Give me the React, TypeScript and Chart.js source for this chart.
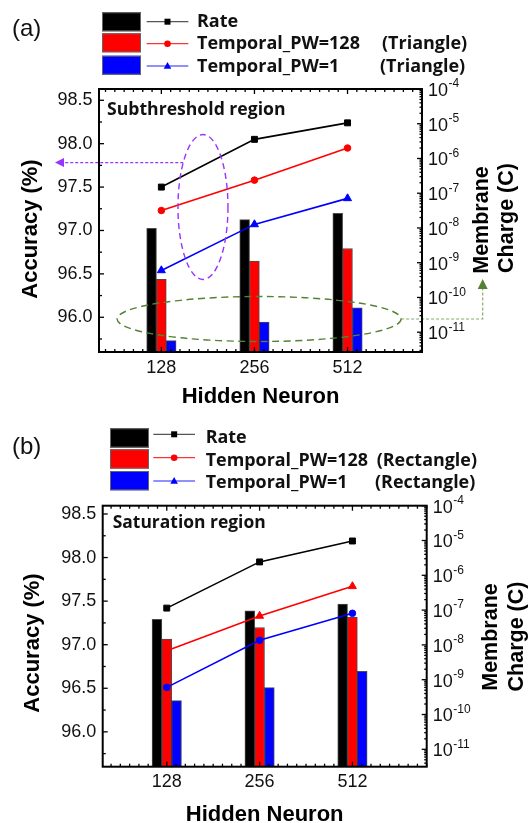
import { useEffect, useRef } from 'react';
import { Chart, registerables } from 'chart.js';

Chart.register(...registerables);

// ---------- data ----------
const hiddenNeurons = ['128', '256', '512'];
const xIndex = [0, 1, 2];
const seriesNames = ['Rate', 'Temporal_PW=128', 'Temporal_PW=1'];
const accTicks = [96.0, 96.5, 97.0, 97.5, 98.0, 98.5];
const chargeExponents = [-11, -10, -9, -8, -7, -6, -5, -4];

// (a) Subthreshold region (Triangle)
const accRateA = [97.5, 98.05, 98.24];
const accPW128A = [97.23, 97.58, 97.95];
const accPW1A = [96.54, 97.07, 97.37];
const chargeRateA = [9.8e-9, 1.74e-8, 2.63e-8];
const chargePW128A = [3.3e-10, 1.12e-9, 2.57e-9];
const chargePW1A = [5.75e-12, 1.95e-11, 5.0e-11];

// (b) Saturation region (Rectangle)
const accRateB = [97.42, 97.95, 98.19];
const accPW128B = [96.93, 97.33, 97.67];
const accPW1B = [96.51, 97.05, 97.36];
const chargeRateB = [5.4e-8, 9.5e-8, 1.48e-7];
const chargePW128B = [1.48e-8, 3.16e-8, 6.3e-8];
const chargePW1B = [2.5e-10, 5.9e-10, 1.74e-9];

// annotation anchors (panel a), in data units
const accuracyHighlight = { x: 0.447, acc: 97.27 };
const chargeHighlight = { x: 1.05, acc: 95.98 };

// ---------- styles ----------
const seriesColors = ['#000000', '#ff0000', '#0000ff'];
const legendLineColors = ['#555555', '#ff3333', '#2222ff'];
const TICK_FONT = "'Liberation Sans', Arial, sans-serif";
const TITLE_FONT = "'Liberation Sans', Arial, sans-serif";
const LABEL_FONT = "'Open Sans', 'Noto Sans', sans-serif";

type Cfg = any;

const panels: Cfg[] = [
  {
    canvasH: 412, padTop: 89, leftW: 99, rightW: 107, bottomH: 60,
    accMin: 95.6, accMax: 98.63, chargeMin: Math.pow(10, -11.57), chargeMax: 1e-4,
    xMin: -0.67, xMax: 2.8,
    tag: '(a)', tagX: 12, tagY: 36,
    region: 'Subthreshold region', regionDX: 8, regionY: 115, regionW: 178.7,
    acc: [accRateA, accPW128A, accPW1A],
    charge: [chargeRateA, chargePW128A, chargePW1A],
    pointStyles: ['rect', 'circle', 'triangle'],
    legendMarkers: ['rect', 'circle', 'triangle'],
    legend: {
      swatchX: 102, swatchW: 39, swatchH: 19, swatchTops: [12.3, 33.3, 55.7],
      lineX0: 146.7, lineX1: 188.3, lineYs: [21.7, 43.7, 66],
      textX: 197, baselines: [27.3, 49.3, 71.7], textW: 163,
      suffix: ['', '(Triangle)', '(Triangle)'], suffixX: [0, 382, 380],
    },
    leftTitleX: 37, leftTitleY: 229,
    rightTitleX: [488, 512.5], rightTitleY: [220, 218],
    bottomTitleY: 403,
    annotate: true,
  },
  {
    canvasH: 411, padTop: 93.7, leftW: 102.7, rightW: 102.3, bottomH: 56.3,
    accMin: 95.6, accMax: 98.595, chargeMin: Math.pow(10, -11.5), chargeMax: 1e-4,
    xMin: -0.69, xMax: 2.8,
    tag: '(b)', tagX: 12, tagY: 42,
    region: 'Saturation region', regionDX: 10, regionY: 116, regionW: 153,
    acc: [accRateB, accPW128B, accPW1B],
    charge: [chargeRateB, chargePW128B, chargePW1B],
    pointStyles: ['rect', 'triangle', 'circle'],
    legendMarkers: ['rect', 'circle', 'triangle'],
    legend: {
      swatchX: 110, swatchW: 39, swatchH: 19.3, swatchTops: [16.3, 37.3, 59],
      lineX0: 153.3, lineX1: 195, lineYs: [22.3, 45.7, 69],
      textX: 205.7, baselines: [30.7, 53.7, 76.3], textW: 162.3,
      suffix: ['', '(Rectangle)', '(Rectangle)'], suffixX: [0, 376.7, 375],
    },
    leftTitleX: 39, leftTitleY: 231,
    rightTitleX: [497, 522.5], rightTitleY: [225, 224.5],
    bottomTitleY: 408.7,
    annotate: false,
  },
];

function drawMarker(ctx: CanvasRenderingContext2D, style: string, x: number, y: number, r: number, color: string) {
  ctx.fillStyle = color;
  ctx.beginPath();
  if (style === 'rect') ctx.rect(x - r, y - r, 2 * r, 2 * r);
  else if (style === 'circle') ctx.arc(x, y, r, 0, Math.PI * 2);
  else {
    ctx.moveTo(x, y - r * 1.2);
    ctx.lineTo(x + r * 1.15, y + r * 0.8);
    ctx.lineTo(x - r * 1.15, y + r * 0.8);
    ctx.closePath();
  }
  ctx.fill();
}

function fitFont(ctx: CanvasRenderingContext2D, text: string, family: string, weight: string, target: number) {
  ctx.font = `${weight} 20px ${family}`;
  const w = ctx.measureText(text).width;
  return (20 * target) / w;
}

function line(ctx: CanvasRenderingContext2D, x0: number, y0: number, x1: number, y1: number) {
  ctx.beginPath();
  ctx.moveTo(x0, y0);
  ctx.lineTo(x1, y1);
  ctx.stroke();
}

function makePlugin(cfg: Cfg) {
  return {
    id: 'decor',
    afterDraw(chart: any) {
      const ctx: CanvasRenderingContext2D = chart.ctx;
      const { left, right, top, bottom } = chart.chartArea;
      const xs = chart.scales.x;
      const ya = chart.scales.yAcc;
      const yc = chart.scales.yCharge;
      ctx.save();

      // annotations
      if (cfg.annotate) {
        // purple ellipse + arrow
        const pcx = xs.getPixelForValue(accuracyHighlight.x);
        const pcy = ya.getPixelForValue(accuracyHighlight.acc);
        const prx = 25, pry = 72.5;
        ctx.strokeStyle = '#9933ff';
        ctx.lineWidth = 1.4;
        ctx.setLineDash([6, 4]);
        ctx.beginPath();
        ctx.ellipse(pcx, pcy, prx, pry, 0, 0, Math.PI * 2);
        ctx.stroke();
        const ay = pcy - 44.5;
        const ax = pcx - prx * Math.sqrt(1 - Math.pow((ay - pcy) / pry, 2));
        ctx.setLineDash([3, 2]);
        ctx.lineWidth = 1.2;
        line(ctx, ax, ay, left - 36, ay);
        ctx.setLineDash([]);
        ctx.fillStyle = '#9933ff';
        ctx.beginPath();
        ctx.moveTo(left - 44, ay);
        ctx.lineTo(left - 35, ay - 4.5);
        ctx.lineTo(left - 35, ay + 4.5);
        ctx.closePath();
        ctx.fill();

        // green ellipse + arrow
        const gcx = xs.getPixelForValue(chargeHighlight.x);
        const gcy = ya.getPixelForValue(chargeHighlight.acc);
        const grx = 142, gry = 22.5;
        ctx.strokeStyle = '#548235';
        ctx.lineWidth = 1.4;
        ctx.setLineDash([7, 4.5]);
        ctx.beginPath();
        ctx.ellipse(gcx, gcy, grx, gry, 0, 0, Math.PI * 2);
        ctx.stroke();
        ctx.strokeStyle = '#86ab66';
        ctx.lineWidth = 1.2;
        ctx.setLineDash([3, 2]);
        const gx = right + 60.7;
        ctx.beginPath();
        ctx.moveTo(gcx + grx, gcy);
        ctx.lineTo(gx, gcy);
        ctx.lineTo(gx, gcy - 31);
        ctx.stroke();
        ctx.setLineDash([]);
        ctx.fillStyle = '#548235';
        ctx.beginPath();
        ctx.moveTo(gx, gcy - 40);
        ctx.lineTo(gx + 5, gcy - 30);
        ctx.lineTo(gx - 5, gcy - 30);
        ctx.closePath();
        ctx.fill();
      }

      // ticks (inward)
      ctx.setLineDash([]);
      ctx.strokeStyle = '#000';
      ctx.lineWidth = 1.3;
      for (let k = Math.ceil(ya.min / 0.25); k * 0.25 <= ya.max + 1e-9; k++) {
        const v = k * 0.25;
        const py = ya.getPixelForValue(v);
        const major = k % 2 === 0;
        line(ctx, left, py, left + (major ? 5 : 3), py);
      }
      for (let e = Math.floor(Math.log10(yc.min)); e <= -4; e++) {
        for (let m = 1; m <= 9; m++) {
          const v = m * Math.pow(10, e);
          if (v < yc.min * 0.999 || v > yc.max * 1.001) continue;
          const py = yc.getPixelForValue(v);
          line(ctx, right, py, right - (m === 1 ? 5 : 2.5), py);
        }
      }
      for (let k = Math.ceil(xs.min * 10); k / 10 <= xs.max + 1e-9; k++) {
        const px = xs.getPixelForValue(k / 10);
        const major = k % 10 === 0;
        const len = major ? 5 : 3;
        line(ctx, px, bottom, px, bottom - len);
        line(ctx, px, top, px, top + len);
      }

      // frame
      ctx.lineWidth = 2;
      ctx.strokeRect(left, top, right - left, bottom - top);

      // right tick labels 10^n
      ctx.fillStyle = '#111';
      for (const e of chargeExponents) {
        const py = yc.getPixelForValue(Math.pow(10, e));
        ctx.font = `18px ${TICK_FONT}`;
        ctx.textAlign = 'left';
        ctx.textBaseline = 'middle';
        ctx.fillText('10', right + 6, py + 2);
        const w = ctx.measureText('10').width;
        ctx.font = `12px ${TICK_FONT}`;
        ctx.fillText(String(e), right + 6 + w + 0.5, py - 5);
      }

      // axis titles
      ctx.fillStyle = '#000';
      ctx.font = `bold 22px ${TITLE_FONT}`;
      ctx.textAlign = 'center';
      ctx.textBaseline = 'alphabetic';
      ctx.save();
      ctx.translate(cfg.leftTitleX, cfg.leftTitleY);
      ctx.rotate(-Math.PI / 2);
      ctx.fillText('Accuracy (%)', 0, 0);
      ctx.restore();
      ctx.font = `bold 21.5px ${TITLE_FONT}`;
      ['Membrane', 'Charge (C)'].forEach((t, i) => {
        ctx.save();
        ctx.translate(cfg.rightTitleX[i], cfg.rightTitleY[i]);
        ctx.rotate(-Math.PI / 2);
        ctx.fillText(t, 0, 0);
        ctx.restore();
      });
      ctx.font = `bold 22px ${TITLE_FONT}`;
      ctx.fillText('Hidden Neuron', (left + right) / 2, cfg.bottomTitleY);

      // region text
      const rs = fitFont(ctx, cfg.region, LABEL_FONT, 'bold', cfg.regionW);
      ctx.font = `bold ${rs}px ${LABEL_FONT}`;
      ctx.textAlign = 'left';
      ctx.fillStyle = '#111';
      ctx.fillText(cfg.region, left + cfg.regionDX, cfg.regionY);

      // panel tag
      ctx.font = `24px ${TICK_FONT}`;
      ctx.fillStyle = '#111';
      ctx.fillText(cfg.tag, cfg.tagX, cfg.tagY);

      // legend
      const L = cfg.legend;
      const ls = fitFont(ctx, seriesNames[1], LABEL_FONT, 'bold', L.textW);
      seriesNames.forEach((name, i) => {
        ctx.fillStyle = seriesColors[i];
        ctx.fillRect(L.swatchX, L.swatchTops[i], L.swatchW, L.swatchH);
        ctx.strokeStyle = '#666';
        ctx.lineWidth = 1;
        ctx.strokeRect(L.swatchX + 0.5, L.swatchTops[i] + 0.5, L.swatchW - 1, L.swatchH - 1);
        ctx.strokeStyle = legendLineColors[i];
        ctx.lineWidth = 1.2;
        line(ctx, L.lineX0, L.lineYs[i], L.lineX1, L.lineYs[i]);
        const mx = (L.lineX0 + L.lineX1) / 2;
        const mStyle = cfg.legendMarkers[i];
        drawMarker(ctx, mStyle, mx, L.lineYs[i], mStyle === 'rect' ? 3 : 3.3, seriesColors[i]);
        ctx.fillStyle = '#111';
        ctx.font = `bold ${ls}px ${LABEL_FONT}`;
        ctx.textAlign = 'left';
        ctx.textBaseline = 'alphabetic';
        ctx.fillText(name, L.textX, L.baselines[i]);
        if (L.suffix[i]) ctx.fillText(L.suffix[i], L.suffixX[i], L.baselines[i]);
      });

      ctx.restore();
    },
  };
}

function Panel({ cfg }: { cfg: Cfg }) {
  const ref = useRef<HTMLCanvasElement>(null);
  useEffect(() => {
    if (!ref.current) return;
    const barSets = cfg.charge.map((vals: number[], i: number) => ({
      type: 'bar',
      label: seriesNames[i],
      data: xIndex.map((x, j) => ({ x, y: vals[j] })),
      yAxisID: 'yCharge',
      xAxisID: 'x',
      backgroundColor: seriesColors[i],
      borderColor: 'rgba(0,0,0,0.7)',
      borderWidth: 1,
      barThickness: 9.8,
      order: 2,
    }));
    const lineSets = cfg.acc.map((vals: number[], i: number) => ({
      type: 'line',
      label: seriesNames[i],
      data: xIndex.map((x, j) => ({ x, y: vals[j] })),
      yAxisID: 'yAcc',
      xAxisID: 'x',
      borderColor: seriesColors[i],
      backgroundColor: seriesColors[i],
      borderWidth: 1.6,
      pointStyle: cfg.pointStyles[i],
      pointRadius: cfg.pointStyles[i] === 'rect' ? 4.2 : cfg.pointStyles[i] === 'circle' ? 3.3 : 4.6,
      pointBorderWidth: 1,
      tension: 0,
      fill: false,
      order: 1,
    }));
    const chart = new Chart(ref.current, {
      type: 'bar',
      data: { datasets: [...barSets, ...lineSets] as any },
      options: {
        animation: false,
        responsive: false,
        devicePixelRatio: 1,
        events: [],
        layout: { padding: { top: cfg.padTop, left: 0, right: 0, bottom: 0 } },
        plugins: { legend: { display: false }, tooltip: { enabled: false } },
        scales: {
          x: {
            type: 'linear',
            position: 'bottom',
            min: cfg.xMin,
            max: cfg.xMax,
            offset: false,
            grid: { display: false, drawTicks: false },
            border: { display: false },
            afterBuildTicks: (s: any) => { s.ticks = xIndex.map((v) => ({ value: v })); },
            afterFit: (s: any) => { s.height = cfg.bottomH; },
            ticks: {
              autoSkip: false,
              maxRotation: 0,
              padding: 5,
              color: '#111',
              font: { family: TICK_FONT, size: 18 },
              callback: (v: any) => hiddenNeurons[Math.round(Number(v))] ?? '',
            },
          },
          yAcc: {
            type: 'linear',
            position: 'left',
            min: cfg.accMin,
            max: cfg.accMax,
            grid: { display: false, drawTicks: false },
            border: { display: false },
            afterBuildTicks: (s: any) => { s.ticks = accTicks.map((v) => ({ value: v })); },
            afterFit: (s: any) => { s.width = cfg.leftW; },
            ticks: {
              padding: 6.5,
              color: '#111',
              font: { family: TICK_FONT, size: 18 },
              callback: (v: any) => Number(v).toFixed(1),
            },
          },
          yCharge: {
            type: 'logarithmic',
            position: 'right',
            min: cfg.chargeMin,
            max: cfg.chargeMax,
            grid: { display: false, drawTicks: false },
            border: { display: false },
            afterFit: (s: any) => { s.width = cfg.rightW; },
            ticks: { display: false },
          },
        },
      } as any,
      plugins: [makePlugin(cfg)],
    });
    return () => chart.destroy();
  }, [cfg]);
  return (
    <canvas
      ref={ref}
      width={529}
      height={cfg.canvasH}
      style={{ display: 'block', width: 529, height: cfg.canvasH }}
    />
  );
}

export default function App() {
  return (
    <div style={{ position: 'absolute', left: 0, top: 0, width: 529, height: 823, background: '#fff' }}>
      {panels.map((p, i) => (
        <Panel key={i} cfg={p} />
      ))}
    </div>
  );
}
